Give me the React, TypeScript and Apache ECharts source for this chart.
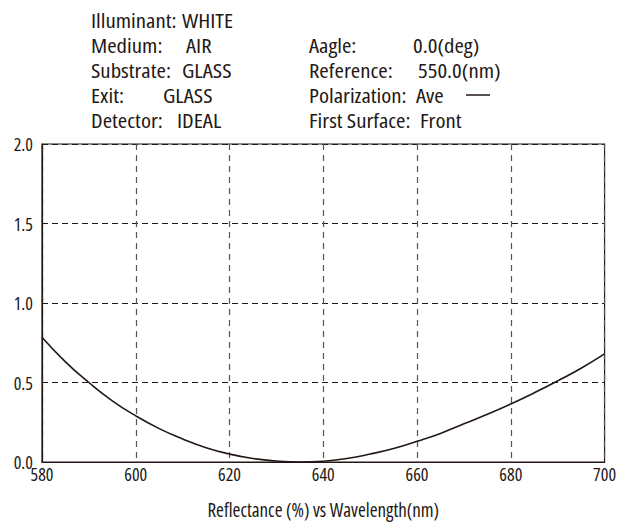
import React, { useEffect, useRef } from "react";
import * as echarts from "echarts";

const wavelengths = [580, 585, 590, 595, 600, 605, 610, 615, 620, 625, 630, 635, 640, 645, 650, 655, 660, 665, 670, 675, 680, 685, 690, 695, 700];
const reflectance = [0.785, 0.63, 0.5, 0.385, 0.29, 0.21, 0.145, 0.09, 0.05, 0.022, 0.006, 0.0, 0.005, 0.022, 0.05, 0.085, 0.13, 0.18, 0.24, 0.3, 0.365, 0.435, 0.51, 0.59, 0.68];

const leftInfo = [
  ["Illuminant:", "WHITE", 182],
  ["Medium:", "AIR", 186],
  ["Substrate:", "GLASS", 182],
  ["Exit:", "GLASS", 163],
  ["Detector:", "IDEAL", 177],
];
const rightInfo = [
  ["Aagle:", "0.0(deg)", 413],
  ["Reference:", "550.0(nm)", 418],
  ["Polarization:", "Ave", 416],
  ["First Surface:", "Front", 420],
];

const FONT = "'Open Sans', sans-serif";
const INK = "#231815";

export default function App() {
  const ref = useRef<HTMLDivElement>(null);
  useEffect(() => {
    document.body.style.margin = "0";
    const st = document.createElement("style");
    st.textContent = "#root svg text { font-stretch: 75% !important; }";
    document.head.appendChild(st);
    const chart = echarts.init(ref.current!, null, { renderer: "svg" });
    const textStyle = { fontFamily: FONT, fontSize: 20, fill: INK, verticalAlign: "middle", align: "left" };
    const graphics: any[] = [];
    leftInfo.forEach((row, i) => {
      const y = 20 + i * 25;
      graphics.push({ type: "text", x: 91, y, scaleX: 1.14, style: { ...textStyle, text: row[0] } });
      graphics.push({ type: "text", x: row[2], y, scaleX: 1.14, style: { ...textStyle, text: row[1] } });
    });
    rightInfo.forEach((row, i) => {
      const y = 45 + i * 25;
      graphics.push({ type: "text", x: 309, y, scaleX: 1.14, style: { ...textStyle, text: row[0] } });
      graphics.push({ type: "text", x: row[2], y, scaleX: 1.14, style: { ...textStyle, text: row[1] } });
    });
    graphics.push({ type: "line", shape: { x1: 466, y1: 95, x2: 490, y2: 95 }, style: { stroke: INK, lineWidth: 1.5 } });

    chart.setOption({
      animation: false,
      grid: { left: 42, right: 15, top: 144, bottom: 60, show: true, borderColor: INK, borderWidth: 1.2 },
      graphic: graphics,
      xAxis: {
        type: "value",
        min: 580,
        max: 700,
        interval: 20,
        name: "Reflectance (%) vs Wavelength(nm)",
        nameLocation: "middle",
        nameGap: 38,
        nameTextStyle: { fontFamily: FONT, fontSize: 19, color: INK },
        axisLine: { show: true, lineStyle: { color: INK, width: 1.2 } },
        axisTick: { show: false },
        axisLabel: { fontFamily: FONT, fontSize: 18, color: INK, margin: 3 },
        splitLine: { show: true, lineStyle: { color: "#555", type: [6, 5], width: 1.2 } },
      },
      yAxis: {
        type: "value",
        min: 0,
        max: 2,
        interval: 0.5,
        axisLine: { show: true, lineStyle: { color: INK, width: 1.2 } },
        axisTick: { show: false },
        axisLabel: { fontFamily: FONT, fontSize: 18, color: INK, margin: 9, formatter: (v: number) => v.toFixed(1) },
        splitLine: { show: true, lineStyle: { color: INK, type: [6, 4], width: 1 } },
      },
      series: [
        {
          type: "line",
          data: wavelengths.map((w, i) => [w, reflectance[i]]),
          smooth: true,
          symbol: "none",
          lineStyle: { color: INK, width: 1.6 },
        },
      ],
    });
    return () => {
      chart.dispose();
      st.remove();
    };
  }, []);
  return <div ref={ref} style={{ width: 623, height: 524 }} />;
}
